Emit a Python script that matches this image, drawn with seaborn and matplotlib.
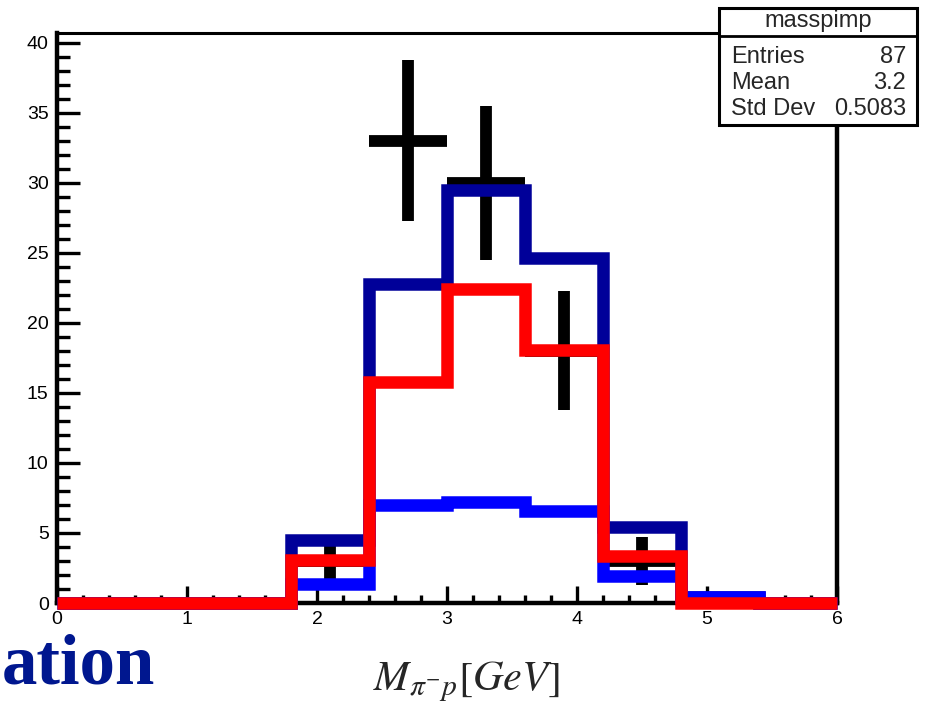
import numpy as np
import pandas as pd
import seaborn as sns
import matplotlib
matplotlib.use("Agg")
import matplotlib.pyplot as plt
from matplotlib.ticker import MultipleLocator
from matplotlib.patches import Rectangle
from matplotlib.lines import Line2D

# Binning of the pi- p invariant mass (GeV)
bin_edges = [0.0, 0.6, 1.2, 1.8, 2.4, 3.0, 3.6, 4.2, 4.8, 5.4, 6.0]
bin_centers = [0.3, 0.9, 1.5, 2.1, 2.7, 3.3, 3.9, 4.5, 5.1, 5.7]

# Simulated contributions per bin
total_sim = [0, 0, 0, 4.5, 22.8, 29.5, 24.6, 5.4, 0.4, 0]
component_low = [0, 0, 0, 1.35, 7.0, 7.2, 6.6, 1.9, 0.4, 0]
component_high = [0, 0, 0, 3.1, 15.8, 22.4, 18.1, 3.35, 0, 0]

# Measured counts (Poisson errors)
data_x = [2.1, 2.7, 3.3, 3.9, 4.5]
data_counts = [3, 33, 30, 18, 3]

stats_title = "masspimp"
stats_names = ["Entries", "Mean", "Std Dev"]
stats_values = ["87", "3.2", "0.5083"]

x_label = r"$M_{\pi^{-}p}[GeV]$"
logo_text = "ation"

sns.set_theme(style="white")
plt.rcParams["font.family"] = ["Liberation Sans", "DejaVu Sans"]
plt.rcParams["mathtext.fontset"] = "stix"
plt.rcParams["lines.solid_joinstyle"] = "miter"
plt.rcParams["lines.solid_capstyle"] = "butt"

W, H = 925, 712
fig = plt.figure(figsize=(W / 100, H / 100), dpi=100)
fig.patch.set_facecolor("white")
ax = fig.add_axes([57 / W, 1 - 603 / H, 780 / W, 570 / H])
ax.set_facecolor("white")

# data points with error bars
ax.errorbar(data_x, data_counts, xerr=0.3, yerr=np.sqrt(data_counts),
            fmt="none", ecolor="black", elinewidth=8.5, capsize=0, zorder=2)

hist_df = pd.DataFrame({
    "mass": bin_centers,
    "total": total_sim,
    "low": component_low,
    "high": component_high,
})
for col, color in [("total", "#000099"), ("low", "#0000ff"), ("high", "#ff0000")]:
    sns.histplot(data=hist_df, x="mass", weights=col, bins=bin_edges,
                 element="step", fill=False, color=color, linewidth=9,
                 ax=ax, zorder=6, clip_on=False)

ax.set_xlim(0, 6)
ax.set_ylim(0, 40.7)
ax.set_xlabel("")
ax.set_ylabel("")
ax.xaxis.set_major_locator(MultipleLocator(1))
ax.xaxis.set_minor_locator(MultipleLocator(0.2))
ax.yaxis.set_major_locator(MultipleLocator(5))
ax.yaxis.set_minor_locator(MultipleLocator(1))
ax.tick_params(which="both", direction="in", top=False, right=False,
               bottom=True, left=True, colors="black", width=2.4)
ax.tick_params(axis="y", which="major", length=16.5, labelsize=14, pad=6)
ax.tick_params(axis="y", which="minor", length=9)
ax.tick_params(axis="x", which="major", length=12, labelsize=14, pad=5.5)
ax.tick_params(axis="x", which="minor", length=6)
for side, sp in ax.spines.items():
    sp.set_color("black")
    sp.set_linewidth(2.2 if side == "top" else 3.2)
    sp.set_zorder(5)

# statistics box
fig.add_artist(Rectangle((719 / W, 1 - 125 / H), (917 - 719) / W, (125 - 8) / H,
                         transform=fig.transFigure, facecolor="white",
                         edgecolor="black", linewidth=2.2, zorder=10))
fig.add_artist(Line2D([719 / W, 917 / W], [1 - 36 / H, 1 - 36 / H],
                      transform=fig.transFigure, color="black", linewidth=2.0,
                      zorder=11))
fig.text(818 / W, 1 - 27 / H, stats_title, ha="center", va="baseline",
         fontsize=17, zorder=12)
for i, (name, val) in enumerate(zip(stats_names, stats_values)):
    yb = 1 - (63 + 26 * i) / H
    fig.text(731 / W, yb, name, ha="left", va="baseline", fontsize=17, zorder=12)
    fig.text(906 / W, yb, val, ha="right", va="baseline", fontsize=17, zorder=12)

fig.text(466 / W, 1 - 690 / H, x_label, ha="center", va="baseline", fontsize=30.5)
fig.text(155 / W, 1 - 683 / H, logo_text, ha="right", va="baseline",
         fontsize=51, fontweight="bold", family=["Liberation Serif", "DejaVu Serif"],
         color="#00178f")

fig.savefig("out.png", dpi=100)
